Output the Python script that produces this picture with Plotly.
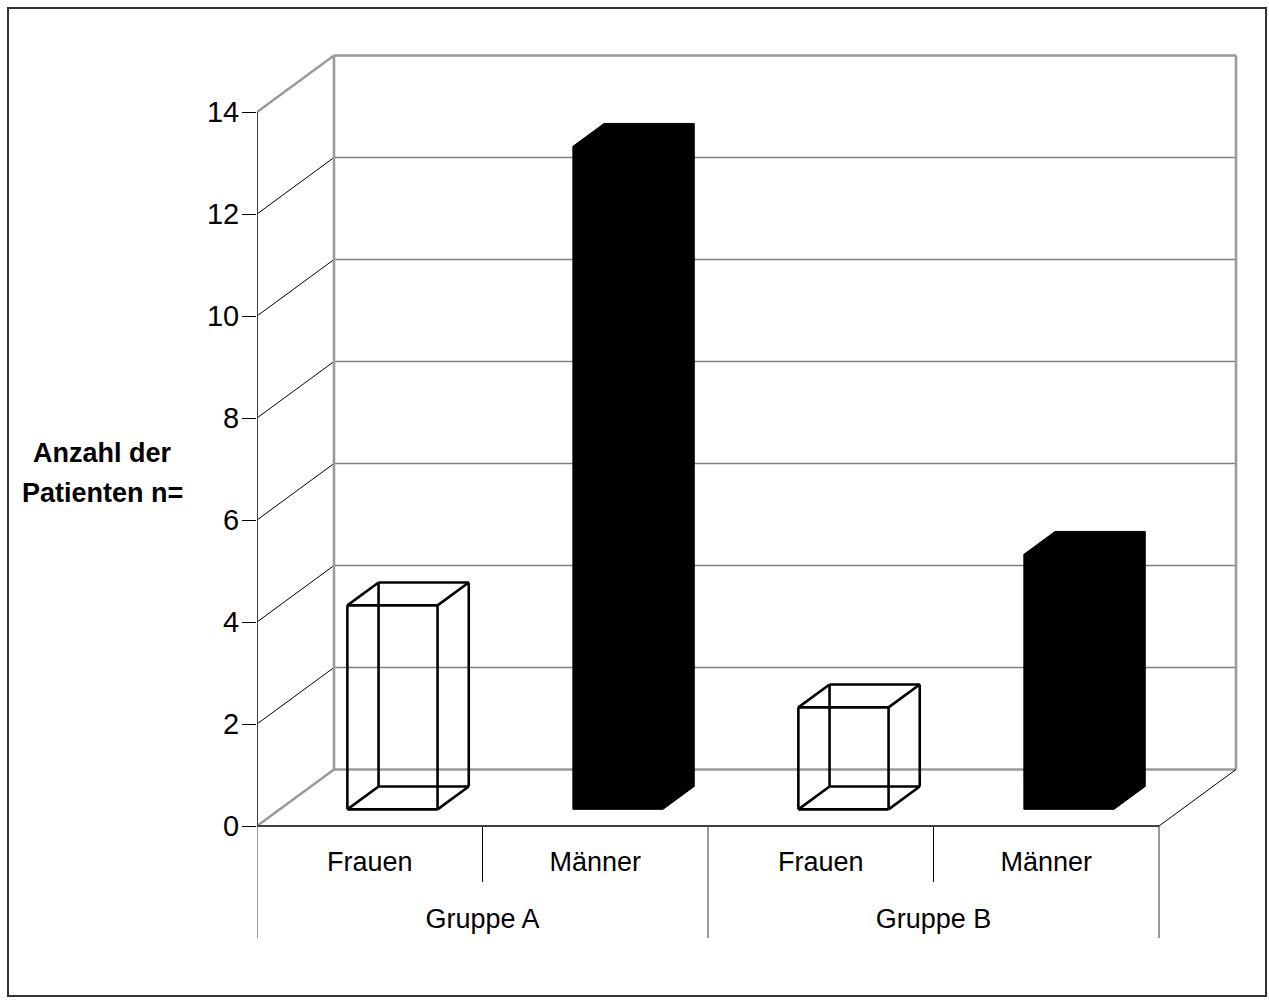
import plotly.graph_objects as go

# ---- chart data -------------------------------------------------------------
groups = ["Gruppe A", "Gruppe B"]
sexes = ["Frauen", "Männer", "Frauen", "Männer"]
counts = [4, 13, 2, 5]
bar_kind = ["wire", "solid", "wire", "solid"]
y_ticks = [0, 2, 4, 6, 8, 10, 12, 14]
y_title_lines = ["Anzahl der", "Patienten n="]

# ---- page geometry (pixels) -------------------------------------------------
W, H = 1269, 1003
AX_LEFT = 257       # x position of the value axis
CAT_PX = 225.5      # width of one category on the front plane
UNIT_PX = 51.0      # pixels per count
ZERO_PX = 826       # y position of the count 0 on the front plane
DEPTH_X_PX = 77     # oblique depth of the box, horizontal part
DEPTH_Y_PX = 56.5   # oblique depth of the box, vertical part

n_cat = len(counts)
y_top = y_ticks[-1]
DX = DEPTH_X_PX / CAT_PX
DY = DEPTH_Y_PX / UNIT_PX

# bar placement inside a category slot (fractions)
HALF_W = 0.2
F_FRONT, F_BACK = 0.295, 0.70

FONT = "Liberation Sans, Arial, sans-serif"
fig = go.Figure()


def segs(pairs):
    xs, ys = [], []
    for (x0, y0), (x1, y1) in pairs:
        xs += [x0, x1, None]
        ys += [y0, y1, None]
    return xs, ys


def add_lines(pairs, color, width):
    xs, ys = segs(pairs)
    fig.add_trace(go.Scatter(x=xs, y=ys, mode="lines", hoverinfo="skip",
                             line=dict(color=color, width=width),
                             showlegend=False, cliponaxis=False))


inner = y_ticks[1:-1]

# side wall grid lines
add_lines([((0, v), (DX, v + DY)) for v in inner], "#000000", 1)
# back wall grid lines
add_lines([((DX, v + DY), (n_cat + DX, v + DY)) for v in inner], "#808080", 1.6)
# wall and floor edges
wall = [
    ((DX, DY), (DX, y_top + DY)),
    ((DX, y_top + DY), (n_cat + DX, y_top + DY)),
    ((n_cat + DX, y_top + DY), (n_cat + DX, DY)),
    ((n_cat + DX, DY), (DX, DY)),
    ((0, y_top), (DX, y_top + DY)),
    ((0, 0), (DX, DY)),
]
add_lines(wall, "#9a9a9a", 2.6)
add_lines([((n_cat, 0), (n_cat + DX, DY))], "#000000", 1)

# category table below the floor
row1 = -(882 - ZERO_PX) / UNIT_PX
row2 = -(938 - ZERO_PX) / UNIT_PX
add_lines([((x, 0), (x, row2)) for x in (0, n_cat // 2, n_cat)], "#808080", 1.6)
add_lines([((x, 0), (x, row1)) for x in (1, 3)], "#000000", 1)

# value axis and front floor edge
add_lines([((0, y_top), (0, 0)), ((0, 0), (n_cat, 0))], "#404040", 2)

# bars as oblique boxes
for i, (v, kind) in enumerate(zip(counts, bar_kind)):
    c = i + 0.5
    fx0, fx1 = c - HALF_W + F_FRONT * DX, c + HALF_W + F_FRONT * DX
    fy0, fy1 = F_FRONT * DY, v + F_FRONT * DY
    ox, oy = (F_BACK - F_FRONT) * DX, (F_BACK - F_FRONT) * DY
    if kind == "solid":
        px = [fx0, fx0, fx0 + ox, fx1 + ox, fx1 + ox, fx1, fx0]
        py = [fy0, fy1, fy1 + oy, fy1 + oy, fy0 + oy, fy0, fy0]
        fig.add_trace(go.Scatter(x=px, y=py, mode="lines", fill="toself",
                                 fillcolor="#000000", hoverinfo="skip",
                                 line=dict(color="#000000", width=1),
                                 showlegend=False, cliponaxis=False))
    else:
        front = [(fx0, fy0), (fx1, fy0), (fx1, fy1), (fx0, fy1)]
        back = [(x + ox, y + oy) for x, y in front]
        edges = []
        for k in range(4):
            edges.append((front[k], front[(k + 1) % 4]))
            edges.append((back[k], back[(k + 1) % 4]))
            edges.append((front[k], back[k]))
        add_lines(edges, "#000000", 2.6)

# category labels
fig.add_trace(go.Scatter(
    x=[i + 0.5 for i in range(n_cat)], y=[-(864 - ZERO_PX) / UNIT_PX] * n_cat,
    mode="text", text=sexes, hoverinfo="skip", showlegend=False, cliponaxis=False,
    textfont=dict(family=FONT, size=27, color="#000000")))
fig.add_trace(go.Scatter(
    x=[1, 3], y=[-(921 - ZERO_PX) / UNIT_PX] * 2,
    mode="text", text=groups, hoverinfo="skip", showlegend=False, cliponaxis=False,
    textfont=dict(family=FONT, size=27, color="#000000")))

title_ann = [dict(text="<b>%s</b>" % s, xref="paper", yref="paper",
                  x=102 / W, y=1 - y_px / H, showarrow=False,
                  xanchor="center", yanchor="middle",
                  font=dict(family=FONT, size=27, color="#000000"))
             for s, y_px in zip(y_title_lines, (453, 493))]

fig.update_layout(
    width=W, height=H,
    margin=dict(l=0, r=0, t=0, b=0),
    paper_bgcolor="#ffffff", plot_bgcolor="#ffffff",
    xaxis=dict(domain=[AX_LEFT / W, 1], range=[0, (W - AX_LEFT) / CAT_PX],
               visible=False, fixedrange=True),
    yaxis=dict(range=[-(H - ZERO_PX) / UNIT_PX, ZERO_PX / UNIT_PX],
               tickmode="array", tickvals=y_ticks, ticktext=[str(t) for t in y_ticks],
               ticks="outside", ticklen=14, tickwidth=1.2, tickcolor="#000000",
               ticklabelstandoff=-3,
               showline=False, showgrid=False, zeroline=False, automargin=False,
               tickfont=dict(family=FONT, size=29, color="#000000"),
               fixedrange=True),
    shapes=[dict(type="rect", xref="paper", yref="paper",
                 x0=8 / W, x1=1266 / W, y0=1 - 996 / H, y1=1 - 8 / H,
                 line=dict(color="#333333", width=2), layer="above")],
    annotations=title_ann,
)

fig.write_html("out.html")
